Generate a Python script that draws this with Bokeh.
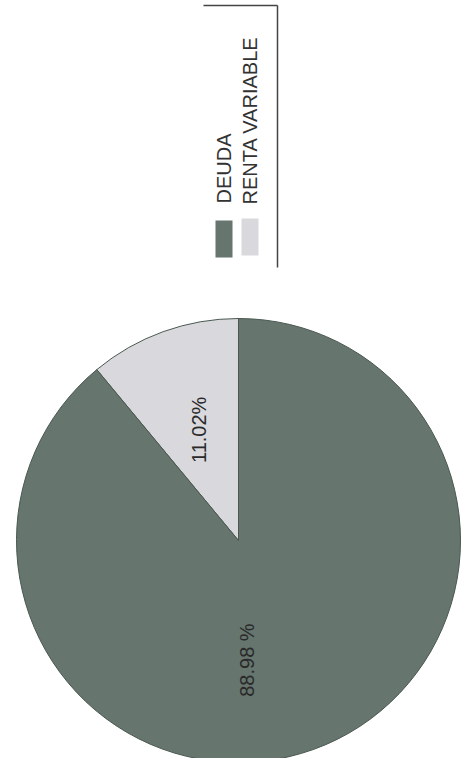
import math
from bokeh.plotting import figure
from bokeh.models import Range1d, ColumnDataSource
from bokeh.core.properties import value
from bokeh.embed import file_html
from bokeh.resources import INLINE

# ---- data ----
categories = ["DEUDA", "RENTA VARIABLE"]
values = [88.98, 11.02]
labels = ["88.98 %", "11.02%"]

# ---- style ----
colors = {"DEUDA": "#66756d", "RENTA VARIABLE": "#d9d9dd"}
font = "Liberation Sans"
W, H = 461, 758

p = figure(width=W, height=H, output_backend="svg", toolbar_location=None,
           x_range=Range1d(0, W), y_range=Range1d(0, H), min_border=0)
p.axis.visible = False
p.grid.visible = False
p.outline_line_color = None
p.background_fill_color = "white"
p.border_fill_color = "white"

def Y(ref_y):
    return H - ref_y

cx, cy, r = 238, Y(540), 222
total = sum(values)
# draw starting at 90 deg counter-clockwise with the small slice first
order = [1, 0]
start = math.pi / 2
starts, ends, cols = [], [], []
mids = {}
for i in order:
    a = 2 * math.pi * values[i] / total
    starts.append(start)
    ends.append(start + a)
    cols.append(colors[categories[i]])
    mids[i] = start + a / 2
    start += a

src = ColumnDataSource(dict(s=starts, e=ends, c=cols))
p.wedge(x=cx, y=cy, radius=r, start_angle="s", end_angle="e", fill_color="c",
        line_color="#4a5850", line_width=1, source=src)

# slice labels
label_geom = {1: (mids[1], 0.53), 0: (math.radians(274), 0.54)}
lx, ly, lt = [], [], []
for i in (1, 0):
    ang, fr = label_geom[i]
    lx.append(cx + fr * r * math.cos(ang))
    ly.append(cy + fr * r * math.sin(ang))
    lt.append(labels[i])
p.text(x=lx, y=ly, text=lt, angle=math.pi / 2, text_align="center",
       text_baseline="middle", text_font=value(font), text_font_size="20px",
       text_color="#2a2a2a")

# legend (drawn manually, rotated)
leg_x = [223.5, 249.5]
sw_y = [238.5, 236.5]
for k, cat in enumerate(categories):
    p.quad(left=leg_x[k] - 8.5, right=leg_x[k] + 8.5,
           bottom=Y(sw_y[k] + 18.5), top=Y(sw_y[k] - 18.5),
           fill_color=colors[cat], line_color=None)
p.text(x=leg_x, y=[Y(203), Y(204)], text=categories, angle=math.pi / 2,
       text_align="left", text_baseline="middle", text_font=value(font),
       text_font_size="20px", text_color="#333333")
p.line(x=[203, 277], y=[Y(5), Y(5)], line_color="#444444", line_width=1.5)
p.line(x=[277, 277], y=[Y(5), Y(267)], line_color="#444444", line_width=1.5)

open("out.html", "w").write(file_html(p, INLINE))
